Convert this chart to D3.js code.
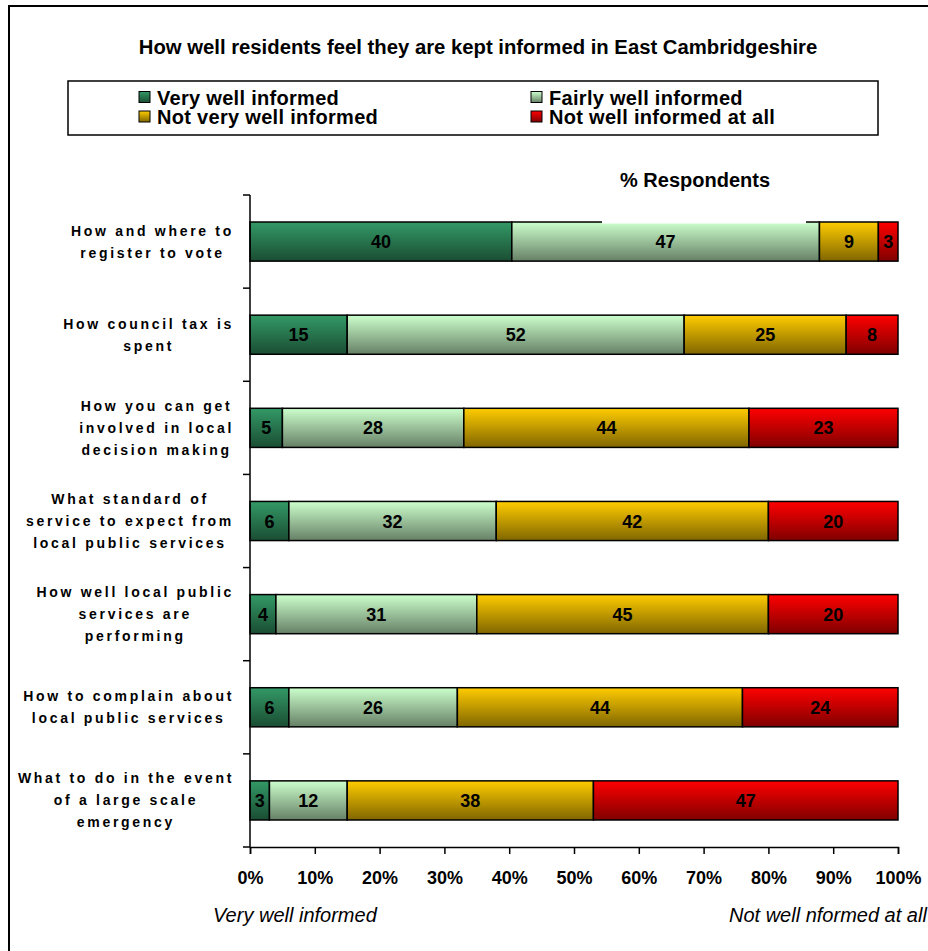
<!DOCTYPE html>
<html>
<head>
<meta charset="utf-8">
<script src="https://cdn.jsdelivr.net/npm/d3@7"></script>
<style>
  body { margin: 0; background: #fff; }
  text { font-family: "Liberation Sans", Arial, sans-serif; }
</style>
</head>
<body>
<svg id="chart"></svg>
<script>
const categories = [
  ["How and where to", "register to vote"],
  ["How council tax is", "spent"],
  ["How you can get", "involved in local", "decision making"],
  ["What standard of", "service to expect from", "local public services"],
  ["How well local public", "services are", "performing"],
  ["How to complain about", "local public services"],
  ["What to do in the event", "of a large scale", "emergency"]
];
const seriesNames = ["Very well informed", "Fairly well informed", "Not very well informed", "Not well informed at all"];
const veryWell = [40, 15, 5, 6, 4, 6, 3];
const fairlyWell = [47, 52, 28, 32, 31, 26, 12];
const notVeryWell = [9, 25, 44, 42, 45, 44, 38];
const notAtAll = [3, 8, 23, 20, 20, 24, 47];
const xTicks = [0, 10, 20, 30, 40, 50, 60, 70, 80, 90, 100];

const colorsTop = ["#339966", "#ccffcc", "#ffcc00", "#ff0000"];
const colorsBottom = ["#1a4d33", "#668066", "#806600", "#800000"];

const width = 928, height = 951;
const svg = d3.select("#chart").attr("width", width).attr("height", height);

const defs = svg.append("defs");
colorsTop.forEach((c, i) => {
  const g = defs.append("linearGradient").attr("id", "grad" + i)
    .attr("x1", 0).attr("y1", 0).attr("x2", 0).attr("y2", 1);
  g.append("stop").attr("offset", "0%").attr("stop-color", c);
  g.append("stop").attr("offset", "100%").attr("stop-color", colorsBottom[i]);
});

// outer frame
svg.append("rect").attr("x", 9).attr("y", 6).attr("width", 940).attr("height", 960)
  .attr("fill", "none").attr("stroke", "#000").attr("stroke-width", 2);

svg.append("text").attr("x", 478).attr("y", 54).attr("text-anchor", "middle")
  .attr("font-size", 20.3).attr("font-weight", "bold")
  .text("How well residents feel they are kept informed in East Cambridgeshire");

// legend
const legend = svg.append("g");
legend.append("rect").attr("x", 68).attr("y", 81).attr("width", 810).attr("height", 54)
  .attr("fill", "#fff").attr("stroke", "#000").attr("stroke-width", 1.5);
const legendPos = [[139, 97.5], [531, 97.5], [139, 117], [531, 117]];
seriesNames.forEach((name, i) => {
  const [lx, ly] = legendPos[i];
  legend.append("rect").attr("x", lx).attr("y", ly - 6).attr("width", 11).attr("height", 11)
    .attr("fill", "url(#grad" + i + ")").attr("stroke", "#000");
  legend.append("text").attr("x", lx + 18).attr("y", ly + 7).attr("font-size", 20)
    .attr("letter-spacing", 0.3).attr("font-weight", "bold").text(name);
});

const x = d3.scaleLinear().domain([0, 100]).range([250, 898]);
const y = d3.scaleBand().domain(d3.range(categories.length)).range([195, 847])
  .paddingInner(0.58).paddingOuter(0.29);

const rows = categories.map((c, i) => [veryWell[i], fairlyWell[i], notVeryWell[i], notAtAll[i]]);

const bars = svg.append("g");
rows.forEach((vals, i) => {
  const total = d3.sum(vals);
  let acc = 0;
  vals.forEach((v, j) => {
    const x0 = x(acc / total * 100);
    acc += v;
    const x1 = x(acc / total * 100);
    bars.append("rect").attr("x", x0).attr("y", y(i)).attr("width", x1 - x0)
      .attr("height", y.bandwidth()).attr("fill", "url(#grad" + j + ")")
      .attr("stroke", "#000").attr("stroke-width", 1.5);
    bars.append("text").attr("x", (x0 + x1) / 2).attr("y", y(i) + y.bandwidth() / 2 + 6.5)
      .attr("text-anchor", "middle").attr("font-size", 18).attr("font-weight", "bold")
      .text(v);
  });
});

// axis title with white background box
svg.append("rect").attr("x", 602).attr("y", 160).attr("width", 204).attr("height", 63.5).attr("fill", "#fff");
svg.append("text").attr("x", 695).attr("y", 187).attr("text-anchor", "middle")
  .attr("font-size", 20).attr("font-weight", "bold").text("% Respondents");

// y axis
const yAxis = svg.append("g");
yAxis.append("line").attr("x1", 250).attr("x2", 250).attr("y1", 195).attr("y2", 847)
  .attr("stroke", "#000").attr("stroke-width", 1.5);
d3.range(categories.length + 1).forEach(i => {
  const ty = 195 + i * y.step();
  yAxis.append("line").attr("x1", 243).attr("x2", 250).attr("y1", ty).attr("y2", ty)
    .attr("stroke", "#000").attr("stroke-width", 1.5);
});

// category labels: block right-aligned, lines centred in block
const labels = svg.append("g").attr("font-size", 14).attr("font-weight", "bold")
  .attr("letter-spacing", 2.7);
categories.forEach((lines, i) => {
  const cy = y(i) + y.bandwidth() / 2;
  const n = lines.length;
  const t = labels.append("text").attr("text-anchor", "middle");
  lines.forEach((l, k) => {
    t.append("tspan").attr("y", cy + (k - (n - 1) / 2) * 22 + 5).text(l);
  });
  const widths = [];
  t.selectAll("tspan").each(function () { widths.push(this.getComputedTextLength()); });
  const maxW = d3.max(widths);
  t.selectAll("tspan").attr("x", 234 - maxW / 2);
});

// x axis
const xAxis = svg.append("g").attr("transform", "translate(0,847)")
  .call(d3.axisBottom(x).tickValues(xTicks).tickSize(7).tickFormat(d => d + "%"));
xAxis.select(".domain").attr("stroke-width", 1.5);
xAxis.selectAll(".tick line").attr("stroke-width", 1.5);
xAxis.selectAll(".tick text").attr("font-size", 18).attr("font-weight", "bold")
  .attr("font-family", "Liberation Sans, Arial, sans-serif").attr("y", 37).attr("dy", 0).attr("fill", "#000");

svg.append("text").attr("x", 213).attr("y", 922).attr("font-size", 20).attr("font-style", "italic")
  .text("Very well informed");
svg.append("text").attr("x", 729).attr("y", 922).attr("font-size", 20).attr("font-style", "italic")
  .text("Not well nformed at all");
</script>
</body>
</html>
